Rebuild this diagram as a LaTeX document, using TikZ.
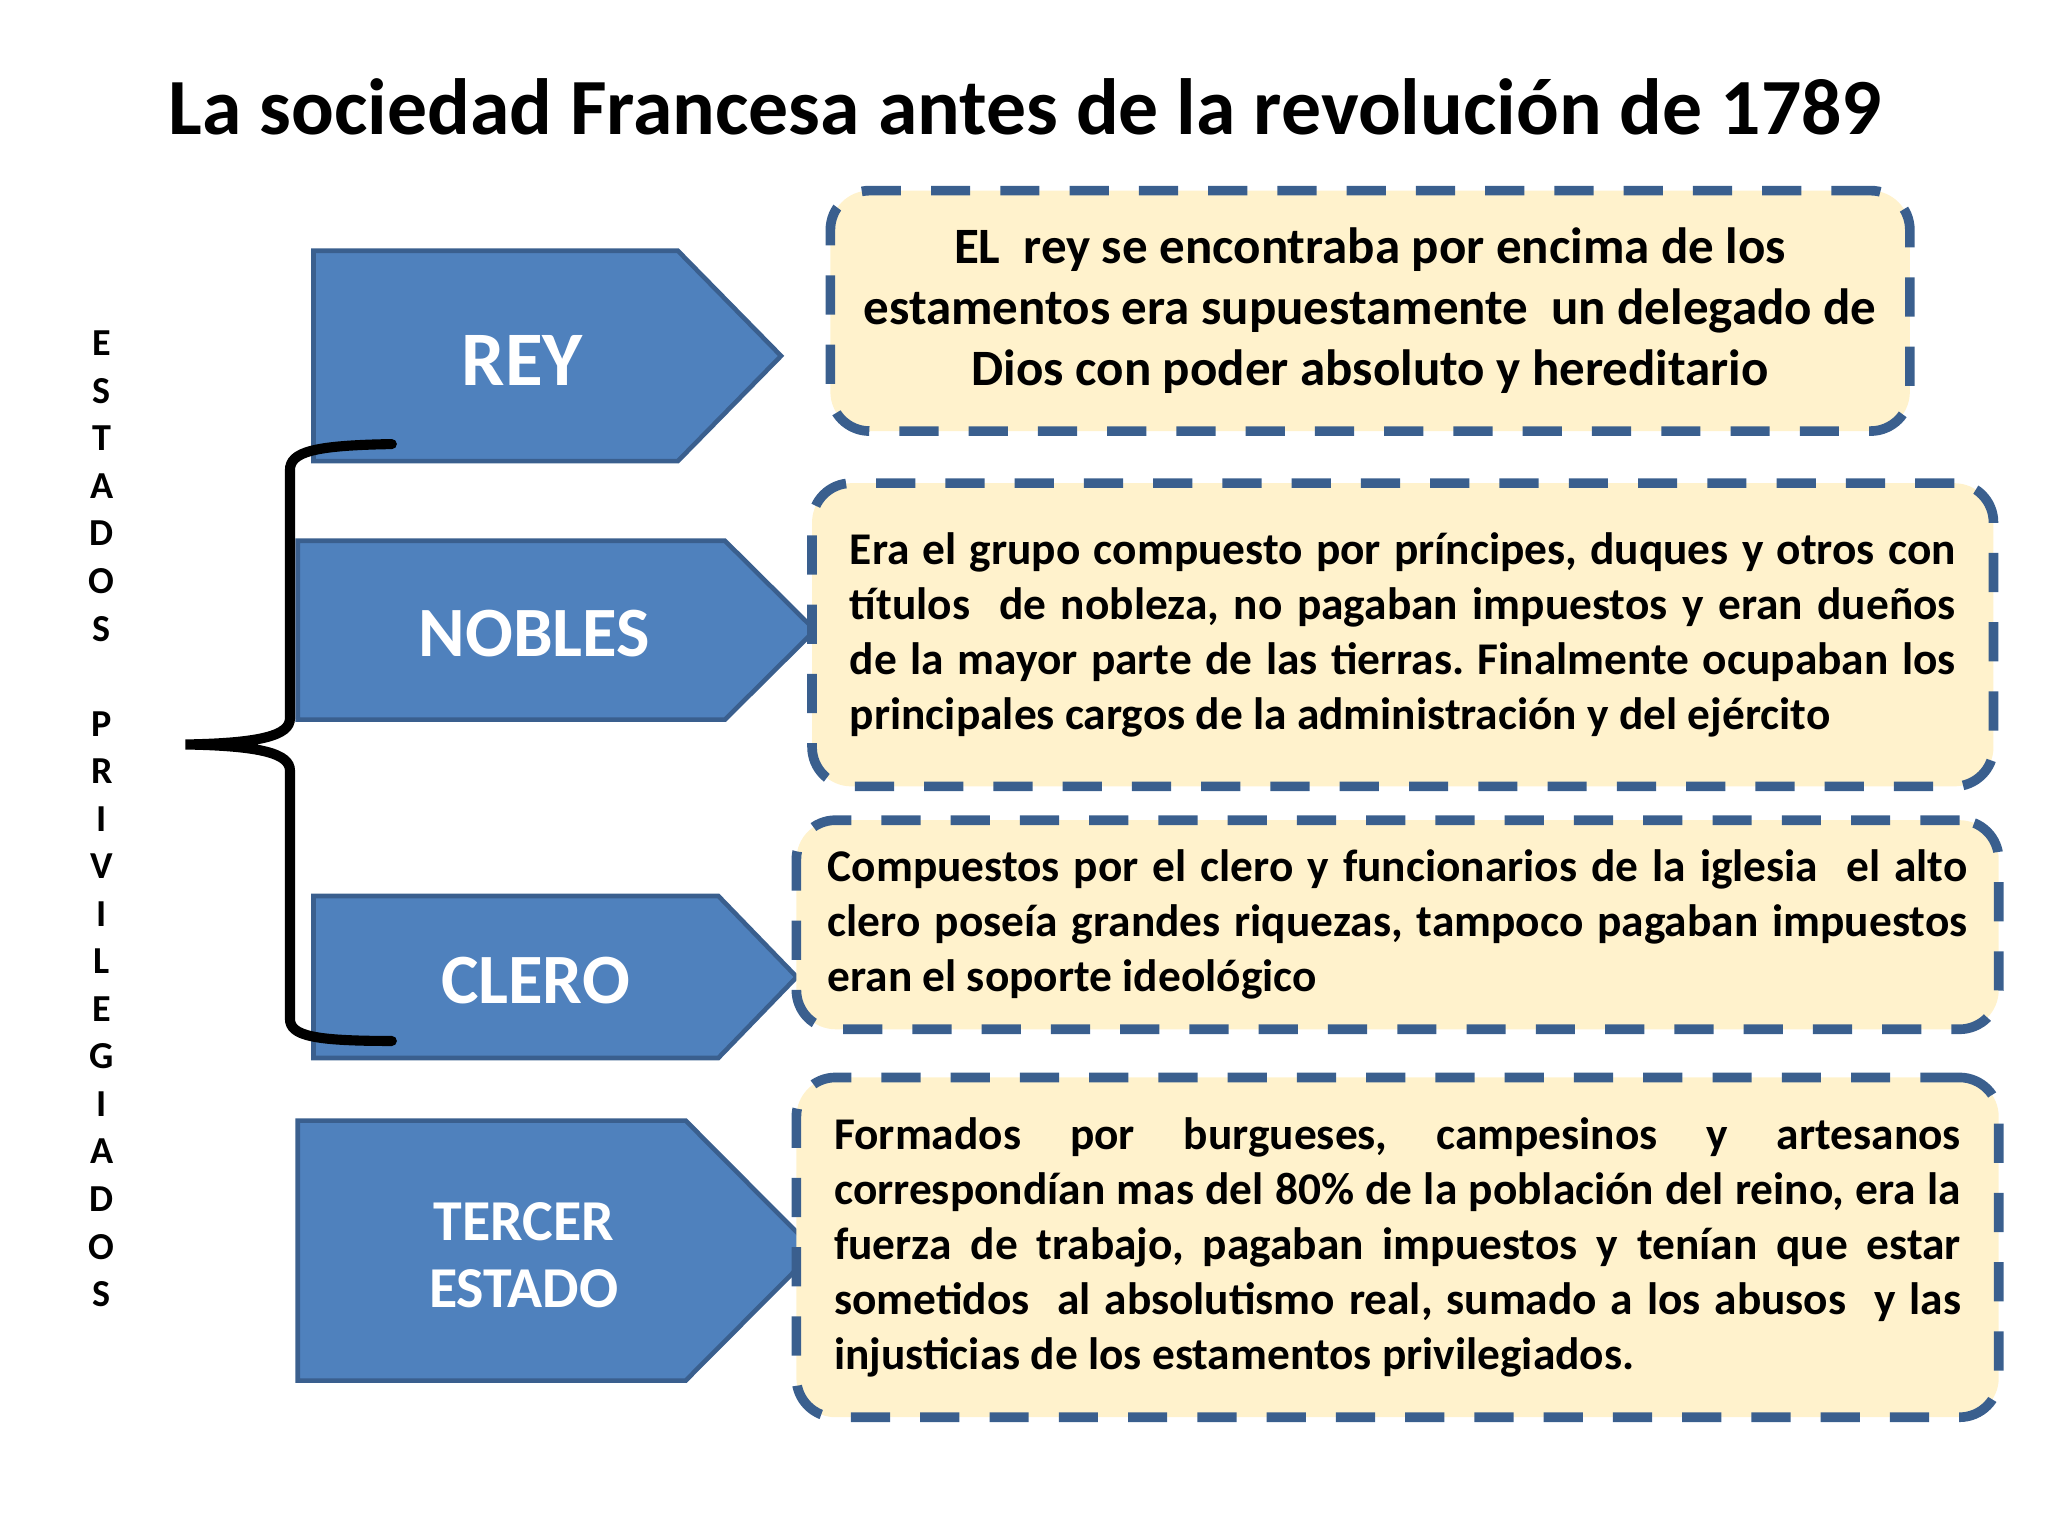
\documentclass[tikz,border=0pt]{standalone}
\usepackage{fontspec}
\setmainfont{Carlito}
\usetikzlibrary{positioning}
\frenchspacing

\definecolor{azul}{HTML}{4F81BD}
\definecolor{azulborde}{HTML}{3A5F8E}
\definecolor{crema}{HTML}{FFF2CC}

\begin{document}
\begin{tikzpicture}[x=0.01cm,y=-0.01cm,
    estamento/.style={fill=azul,draw=azulborde,line width=1pt},
    etiqueta/.style={text=white,font=\bfseries\fontsize{15.4}{18}\selectfont},
    cuadro/.style={draw=azulborde,fill=crema,line width=2.1pt,
        dash pattern=on 0.3cm off 0.23cm,rounded corners=0.3cm,inner sep=0pt,
        font=\bfseries\fontsize{9.88}{11.95}\selectfont},
    llave/.style={line width=2.2pt,line cap=round}]
    \useasboundingbox (0,0) rectangle (1568,1176);

    % Title
    \node[anchor=base,font=\bfseries\fontsize{17.35}{21}\selectfont] (titulo) at (785,103)
        {La sociedad Francesa antes de la revolución de 1789};

    % Estados privilegiados
    \node[align=center,font=\bfseries\fontsize{8.3}{10.35}\selectfont] (estados) at (78,627)
        {E\\S\\T\\A\\D\\O\\S\\~\\P\\R\\I\\V\\I\\L\\E\\G\\I\\A\\D\\O\\S};

    % Arrows
    \draw[estamento] (240,192) -- (519,192) -- (598,272.5) -- (519,353) -- (240,353) -- cycle;
    \draw[estamento] (228,414) -- (555,414) -- (624,482.5) -- (555,551) -- (228,551) -- cycle;
    \draw[estamento] (240,686) -- (550,686) -- (610,748) -- (550,810) -- (240,810) -- cycle;
    \draw[estamento] (228,858) -- (525,858) -- (624,957.5) -- (525,1057) -- (228,1057) -- cycle;

    \node[etiqueta,anchor=base,font=\bfseries\fontsize{16.8}{20}\selectfont] (rey) at (400,295) {REY};
    \node[etiqueta,anchor=base] (nobles) at (409,503) {NOBLES};
    \node[etiqueta,anchor=base] (clero) at (410,768) {CLERO};
    \node[etiqueta,align=center,font=\bfseries\fontsize{12.6}{14.74}\selectfont] (tercer) at (401,961)
        {TERCER\\ESTADO};

    % Boxes
    \node[cuadro,minimum width=8.26cm,minimum height=1.84cm,align=center,
        font=\bfseries\fontsize{11.1}{13.3}\selectfont]
        (cuadrorey) at (1049,238)
        {EL~~rey se encontraba por encima de los\\estamentos era supuestamente~~un delegado de\\Dios con poder absoluto y hereditario};
    \node[cuadro,minimum width=9.04cm,minimum height=2.32cm,text width=8.46cm,align=justify]
        (cuadronobles) at (1074,486)
        {Era el grupo compuesto por príncipes, duques y otros con\linebreak
        títulos~~de nobleza, no pagaban impuestos y eran dueños\linebreak
        de la mayor parte de las tierras. Finalmente ocupaban los\linebreak
        principales cargos de la administración y del ejército};
    \node[cuadro,minimum width=9.2cm,minimum height=1.6cm,text width=8.72cm,align=justify]
        (cuadroclero) at (1070,708)
        {Compuestos por el clero y funcionarios de la iglesia~~el alto\linebreak
        clero poseía grandes riquezas, tampoco pagaban impuestos\linebreak
        eran el soporte ideológico};
    \node[cuadro,minimum width=9.2cm,minimum height=2.6cm,text width=8.62cm,align=justify]
        (cuadrotercer) at (1070,955)
        {Formados por burgueses, campesinos y artesanos\linebreak
        correspondían mas del 80\% de la población del reino, era la\linebreak
        fuerza de trabajo, pagaban impuestos y tenían que estar\linebreak
        sometidos~~al absolutismo real, sumado a los abusos~~y las\linebreak
        injusticias de los estamentos privilegiados.};

    % Brace
    \draw[llave] (300,340) .. controls (240,341) and (222,346) .. (222,360) -- (222,550)
        .. controls (222,563) and (200,569) .. (142,570)
        .. controls (200,571) and (222,577) .. (222,590) -- (222,780)
        .. controls (222,793) and (240,797) .. (300,797);
\end{tikzpicture}
\end{document}
